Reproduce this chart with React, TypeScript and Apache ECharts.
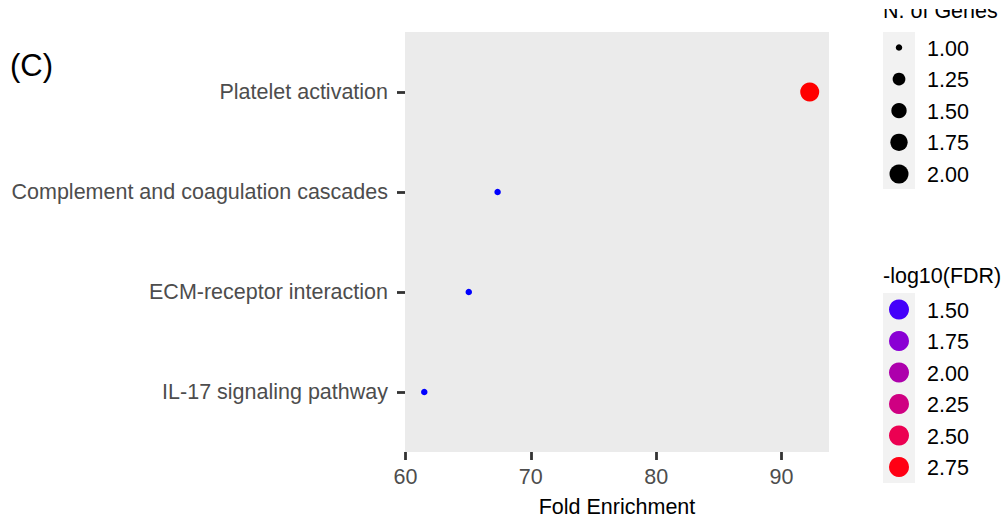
import React, { useEffect, useRef } from "react";
import * as echarts from "echarts";

const categories = [
  "IL-17 signaling pathway",
  "ECM-receptor interaction",
  "Complement and coagulation cascades",
  "Platelet activation",
];
const foldEnrichment = [61.5, 65.05, 67.35, 92.25];
const geneCounts = [1, 1, 1, 2];
const negLog10FDR = [1.4, 1.4, 1.4, 2.85];
const xTicks = [60, 70, 80, 90];
const yTicks = [1, 2, 3, 4];
const sizeLegendValues = [1, 1.25, 1.5, 1.75, 2];
const fdrLegendValues = [1.5, 1.75, 2, 2.25, 2.5, 2.75];
const fdrLegendColors = ["#4400FA", "#8A00D4", "#AD00AC", "#CF0082", "#EC0052", "#FF0014"];

const FONT = "'Liberation Sans', Arial, Helvetica, sans-serif";
const FS = 21.5;

const gMin = Math.min(...geneCounts);
const gMax = Math.max(...geneCounts);
const sizeFor = (g: number) => {
  const t = gMax === gMin ? 0 : (g - gMin) / (gMax - gMin);
  return 6.5 + 12.5 * Math.sqrt(Math.max(0, t));
};

const fMin = Math.min(...foldEnrichment);
const fMax = Math.max(...foldEnrichment);
const xPad = (fMax - fMin) * 0.05;

export default function App() {
  const ref = useRef<HTMLDivElement>(null);
  useEffect(() => {
    if (!ref.current) return;
    const chart = echarts.init(ref.current, null, { renderer: "svg" });
    const graphics: any[] = [];
    // (C) label
    graphics.push({
      type: "text",
      left: 10,
      top: 50,
      style: { text: "(C)", font: `31px ${FONT}`, fill: "#000" },
    });
    // size legend
    graphics.push({
      type: "text",
      x: 883,
      y: 22,
      style: { text: "N. of Genes", font: `${FS}px ${FONT}`, fill: "#000", verticalAlign: "bottom" },
    });
    graphics.push({ type: "rect", shape: { x: 870, y: 0, width: 134, height: 9 }, style: { fill: "#fff" }, z: 100 });
    graphics.push({ type: "rect", shape: { x: 883, y: 32, width: 32, height: 157 }, style: { fill: "#F2F2F2" } });
    sizeLegendValues.forEach((v, i) => {
      const cy = 47.5 + i * 31.6;
      graphics.push({ type: "circle", shape: { cx: 899, cy, r: sizeFor(v) / 2 }, style: { fill: "#000" } });
      graphics.push({
        type: "text",
        x: 927,
        y: cy + 1,
        style: { text: v.toFixed(2), font: `${FS}px ${FONT}`, fill: "#000", verticalAlign: "middle" },
      });
    });
    // color legend
    graphics.push({
      type: "text",
      x: 883,
      y: 276,
      style: { text: "-log10(FDR)", font: `${FS}px ${FONT}`, fill: "#000", verticalAlign: "middle" },
    });
    graphics.push({ type: "rect", shape: { x: 883, y: 293, width: 32, height: 190 }, style: { fill: "#F2F2F2" } });
    fdrLegendValues.forEach((v, i) => {
      const cy = 309.5 + i * 31.5;
      graphics.push({ type: "circle", shape: { cx: 899, cy, r: 10 }, style: { fill: fdrLegendColors[i] } });
      graphics.push({
        type: "text",
        x: 927,
        y: cy + 1,
        style: { text: v.toFixed(2), font: `${FS}px ${FONT}`, fill: "#000", verticalAlign: "middle" },
      });
    });

    chart.setOption({
      animation: false,
      backgroundColor: "#fff",
      textStyle: { fontFamily: FONT },
      grid: {
        left: 405,
        top: 32,
        width: 424,
        height: 420,
        show: true,
        backgroundColor: "#EBEBEB",
        borderWidth: 0,
        containLabel: false,
        outerBoundsMode: "none",
      },
      xAxis: {
        type: "value",
        min: fMin - xPad,
        max: fMax + xPad,
        name: "Fold Enrichment",
        nameLocation: "middle",
        nameGap: 44,
        nameTextStyle: { fontSize: FS, color: "#000", fontFamily: FONT },
        axisLine: { show: false },
        splitLine: { show: false },
        axisTick: {
          show: true,
          length: 8,
          customValues: xTicks,
          lineStyle: { color: "#333333", width: 2.8 },
        },
        axisLabel: {
          customValues: xTicks,
          fontSize: FS,
          color: "#4D4D4D",
          margin: 14,
          fontFamily: FONT,
        },
      },
      yAxis: {
        type: "value",
        min: 0.4,
        max: 4.6,
        axisLine: { show: false },
        splitLine: { show: false },
        axisTick: {
          show: true,
          length: 8,
          customValues: yTicks,
          lineStyle: { color: "#333333", width: 2.8 },
        },
        axisLabel: {
          customValues: yTicks,
          fontSize: FS,
          color: "#4D4D4D",
          margin: 17,
          fontFamily: FONT,
          formatter: (v: number) => categories[Math.round(v) - 1] ?? "",
        },
      },
      visualMap: {
        show: false,
        type: "continuous",
        dimension: 3,
        seriesIndex: 0,
        min: Math.min(...negLog10FDR),
        max: Math.max(...negLog10FDR),
        inRange: { color: ["#0000FF", "#FF0000"] },
      },
      series: [
        {
          type: "scatter",
          data: categories.map((c, i) => [foldEnrichment[i], i + 1, geneCounts[i], negLog10FDR[i], c]),
          symbol: "circle",
          symbolSize: (v: number[]) => sizeFor(v[2]),
          itemStyle: { opacity: 1 },
        },
      ],
      graphic: graphics,
    });
    return () => chart.dispose();
  }, []);
  return (
    <div
      ref={ref}
      style={{ position: "absolute", left: 0, top: 0, width: 1004, height: 518 }}
    />
  );
}
